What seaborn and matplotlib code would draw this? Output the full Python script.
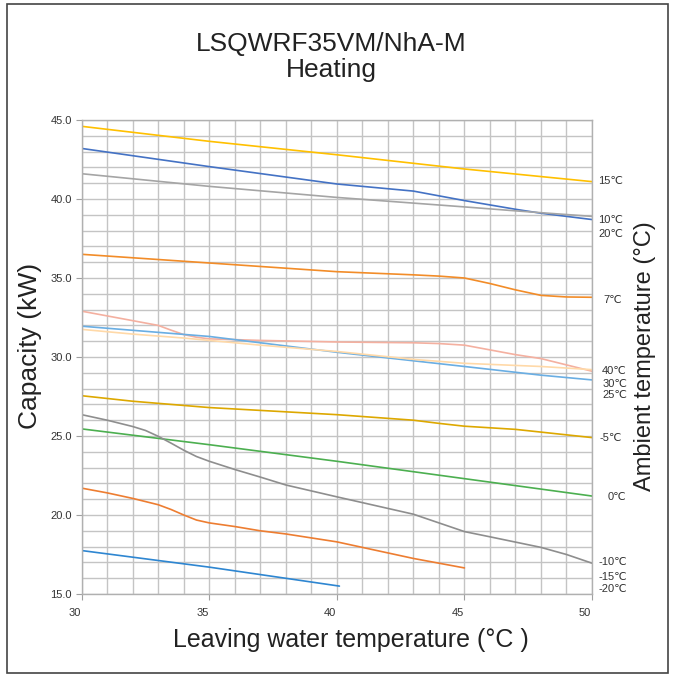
import numpy as np
import pandas as pd
import seaborn as sns
import matplotlib.pyplot as plt
import matplotlib.transforms as mtransforms
from matplotlib.patches import Rectangle

# values (leaving water temp -> capacity kW)
x_15 = [30, 35, 40, 45, 50]
y_15 = [44.6, 43.65, 42.8, 41.9, 41.1]

x_10 = [30, 35, 40, 43, 44, 45, 47, 48, 50]
y_10 = [43.2, 42.05, 40.95, 40.5, 40.2, 39.9, 39.35, 39.1, 38.7]

x_20 = [30, 35, 40, 45, 47, 50]
y_20 = [41.6, 40.8, 40.1, 39.5, 39.25, 38.9]

x_7 = [30, 35, 40, 43, 44, 45, 46, 47, 48, 49, 50]
y_7 = [36.5, 35.95, 35.4, 35.2, 35.12, 35.0, 34.65, 34.25, 33.9, 33.8, 33.78]

x_40 = [30, 31, 32, 33, 33.5, 34, 34.5, 35, 37, 40, 43, 44, 45, 46, 47, 48, 49, 50]
y_40 = [32.9, 32.6, 32.3, 32.0, 31.7, 31.42, 31.25, 31.15, 31.05, 30.95, 30.9,
        30.85, 30.75, 30.45, 30.15, 29.9, 29.5, 29.1]

x_30 = [30, 35, 40, 45, 48, 50]
y_30 = [31.95, 31.3, 30.3, 29.4, 28.85, 28.55]

x_25 = [30, 32, 34, 35, 37, 40, 43, 45, 48, 50]
y_25 = [31.75, 31.45, 31.2, 31.05, 30.75, 30.35, 29.85, 29.6, 29.4, 29.2]

x_m5 = [30, 32, 35, 40, 43, 44, 45, 47, 50]
y_m5 = [27.55, 27.2, 26.8, 26.35, 26.0, 25.8, 25.62, 25.42, 24.9]

x_0 = [30, 35, 40, 45, 50]
y_0 = [25.45, 24.45, 23.4, 22.3, 21.2]

x_m10 = [30, 31, 32, 32.5, 33, 33.5, 34, 34.5, 35, 36, 37, 38, 40, 43, 44, 45,
         46, 48, 49, 50]
y_m10 = [26.35, 26.0, 25.6, 25.35, 24.98, 24.55, 24.1, 23.7, 23.4, 22.88, 22.4,
         21.9, 21.15, 20.05, 19.5, 18.95, 18.62, 17.95, 17.5, 16.95]

x_m15 = [30, 31, 32, 33, 33.5, 34, 34.5, 35, 36, 37, 38, 40, 43, 45]
y_m15 = [21.7, 21.4, 21.05, 20.65, 20.35, 20.0, 19.68, 19.5, 19.27, 19.0, 18.8,
         18.3, 17.25, 16.65]

x_m20 = [30, 35, 40.1]
y_m20 = [17.75, 16.7, 15.5]

series = [
    ('15℃', x_15, y_15, '#FFC000'),
    ('10℃', x_10, y_10, '#4472C4'),
    ('20℃', x_20, y_20, '#A5A5A5'),
    ('7℃', x_7, y_7, '#F28C28'),
    ('40℃', x_40, y_40, '#F4B0A0'),
    ('30℃', x_30, y_30, '#6AAEE3'),
    ('25℃', x_25, y_25, '#FFD9A8'),
    ('-5℃', x_m5, y_m5, '#DDA800'),
    ('0℃', x_0, y_0, '#4CAF50'),
    ('-10℃', x_m10, y_m10, '#8E8E8E'),
    ('-15℃', x_m15, y_m15, '#ED7D31'),
    ('-20℃', x_m20, y_m20, '#2E86D1'),
]

# label text positions on the right side (x, y in data units)
label_pos = {
    '15℃': (50.25, 41.15), '10℃': (50.25, 38.65), '20℃': (50.25, 37.8),
    '7℃': (50.45, 33.6), '40℃': (50.4, 29.1), '30℃': (50.4, 28.3),
    '25℃': (50.4, 27.6), '-5℃': (50.3, 24.85), '0℃': (50.6, 21.15),
    '-10℃': (50.25, 17.0), '-15℃': (50.25, 16.1), '-20℃': (50.25, 15.3),
}

rows = []
for name, xs, ys, col in series:
    for xv, yv in zip(xs, ys):
        rows.append({'ambient': name, 'lwt': xv, 'cap': yv})
df = pd.DataFrame(rows)
palette = {name: col for name, xs, ys, col in series}

sns.set_theme(style='white')
plt.rcParams['font.family'] = ['Liberation Sans', 'DejaVu Sans']

fig = plt.figure(figsize=(6.75, 6.79), dpi=100)
ax = fig.add_axes([81.7 / 675, 1 - 594 / 679, (592 - 81.7) / 675, (594 - 120) / 679])

sns.lineplot(data=df, x='lwt', y='cap', hue='ambient', palette=palette,
             estimator=None, sort=False, linewidth=1.2, legend=False, ax=ax)

ax.set_xlim(30, 50)
ax.set_ylim(15, 45)
ax.set_xticks(np.arange(30, 51, 5))
ax.set_xticks(np.arange(30, 51, 1), minor=True)
ax.set_yticks(np.arange(15, 46, 5))
ax.set_yticks(np.arange(15, 46, 1), minor=True)
ax.set_yticklabels([f'{v:.1f}' for v in np.arange(15, 46, 5)])
ax.grid(True, which='both', color='#C4C4C4', linewidth=1.0)
ax.set_axisbelow(True)
ax.tick_params(axis='both', which='major', labelsize=8, length=4, width=0.8,
               color='#A0A0A0', labelcolor='#333333', left=True, bottom=True)
ax.tick_params(axis='y', pad=3)
ax.tick_params(axis='x', pad=6)
for sp in ax.spines.values():
    sp.set_color('#B0B0B0')
    sp.set_linewidth(1.0)
ax.set_xlabel('')
ax.set_ylabel('')

shift = mtransforms.ScaledTranslation(-7 / 100, 0, fig.dpi_scale_trans)
for lab in ax.get_xticklabels():
    lab.set_transform(lab.get_transform() + shift)

for name, xs, ys, col in series:
    lx, ly = label_pos[name]
    ax.text(lx, ly, name, fontsize=8, color='#333333', ha='left', va='center',
            clip_on=False)

fig.text(331 / 675, 1 - 44 / 679, 'LSQWRF35VM/NhA-M', ha='center', va='center',
         fontsize=19, color='#222222')
fig.text(331 / 675, 1 - 70 / 679, 'Heating', ha='center', va='center',
         fontsize=19, color='#222222')
fig.text(351 / 675, 1 - 640 / 679, 'Leaving water temperature (°C )', ha='center',
         va='center', fontsize=18, color='#222222')
fig.text(30 / 675, 1 - 346 / 679, 'Capacity (kW)', ha='center', va='center',
         rotation=90, fontsize=19, color='#222222')
fig.text(645 / 675, 1 - 356 / 679, 'Ambient temperature (°C)', ha='center',
         va='center', rotation=90, fontsize=17, color='#222222')

fig.patches.append(Rectangle((7 / 675, 1 - 673 / 679), 661 / 675, 669 / 679,
                             transform=fig.transFigure, fill=False,
                             edgecolor='#444444', linewidth=1.2))

fig.savefig('out.png', dpi=100)
